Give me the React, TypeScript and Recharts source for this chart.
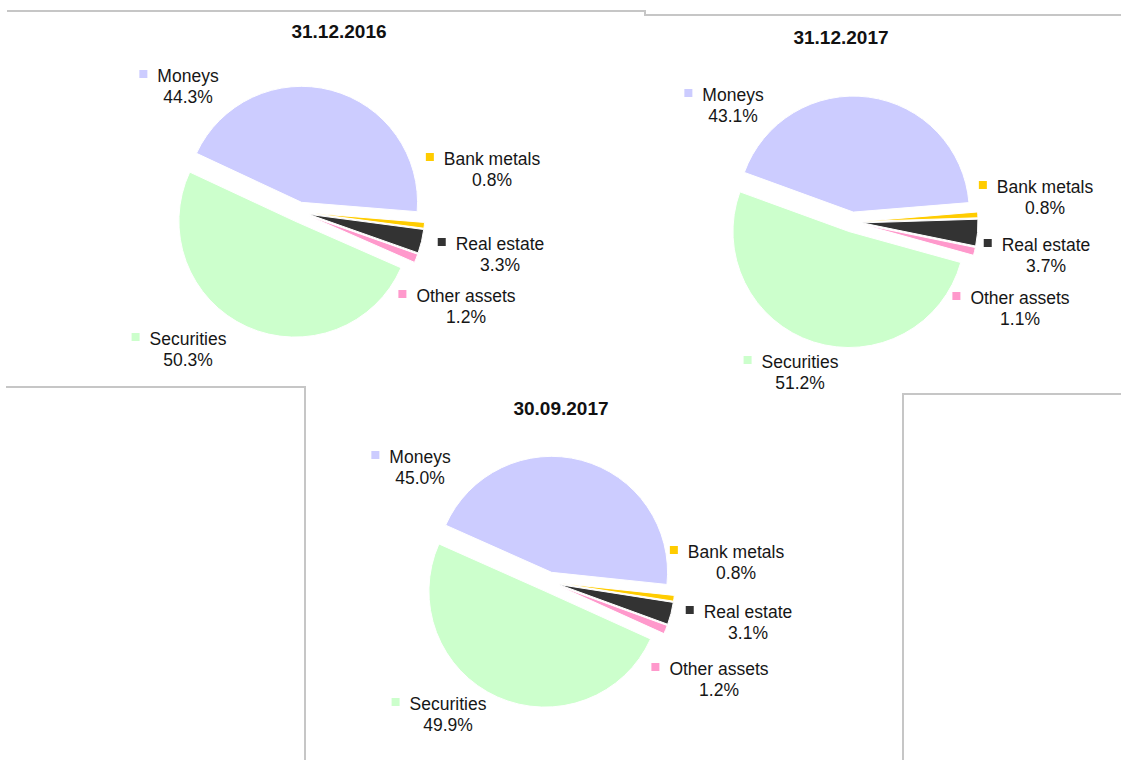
import React from 'react';
import { PieChart, Pie, Cell } from 'recharts';

const categories = ['Moneys', 'Bank metals', 'Real estate', 'Other assets', 'Securities'];
const sliceColors = ['#ccccff', '#ffcc00', '#333333', '#ff99cc', '#ccffcc'];

const titles = ['31.12.2016', '31.12.2017', '30.09.2017'];
const values2016 = [44.3, 0.8, 3.3, 1.2, 50.3];
const valuesDec2017 = [43.1, 0.8, 3.7, 1.1, 51.2];
const valuesSep2017 = [45.0, 0.8, 3.1, 1.2, 49.9];

const W = 1121;
const H = 760;
const RADIUS = 116;
const EXPLODE = 10;
const FONT = '"Liberation Sans", Arial, sans-serif';
const LABEL_SIZE = 17.5;
const BORDER = '#c6c6c6';

// page layout: pie centre, first slice angle, title spot, label anchors (centre of name line)
const charts = [
  {
    title: titles[0], values: values2016, cx: 299, cy: 212, start: 155, titleX: 339, titleY: 31,
    labels: [[188, 76], [492, 159], [500, 244], [466, 296], [188, 339]],
  },
  {
    title: titles[1], values: valuesDec2017, cx: 852, cy: 222, start: 160, titleX: 841, titleY: 37,
    labels: [[733, 95], [1045, 187], [1046, 245], [1020, 298], [800, 362]],
  },
  {
    title: titles[2], values: valuesSep2017, cx: 549, cy: 582, start: 156, titleX: 561, titleY: 408,
    labels: [[420, 457], [736, 552], [748, 612], [719, 669], [448, 704]],
  },
];

let ctx: CanvasRenderingContext2D | null = null;
function textWidth(s: string) {
  if (!ctx) ctx = document.createElement('canvas').getContext('2d');
  if (!ctx) return s.length * 8;
  ctx.font = `${LABEL_SIZE}px ${FONT}`;
  return ctx.measureText(s).width;
}

// bisector of slice k, used to push the slice out of the centre
function sliceMid(values: number[], start: number, k: number) {
  const total = values.reduce((a, b) => a + b, 0);
  const before = values.slice(0, k).reduce((a, b) => a + b, 0);
  return start - ((before + values[k] / 2) / total) * 360;
}

type Chart = (typeof charts)[number];

const makeLabel = (chart: Chart, k: number) => (props: any) => {
  if (props.index !== k) return null;
  const [x, y] = chart.labels[k];
  const name = categories[k];
  const w = textWidth(name);
  return (
    <g>
      <rect x={x - w / 2 - 18} y={y - 6} width={8} height={8} fill={sliceColors[k]} />
      <text x={x} y={y} textAnchor="middle" dominantBaseline="central"
        fontFamily={FONT} fontSize={LABEL_SIZE} fill="#161616">{name}</text>
      <text x={x} y={y + 21} textAnchor="middle" dominantBaseline="central"
        fontFamily={FONT} fontSize={LABEL_SIZE} fill="#161616">{chart.values[k].toFixed(1)}%</text>
    </g>
  );
};

const line = (left: number, top: number, width: number, height: number) => (
  <div style={{ position: 'absolute', left, top, width, height, background: BORDER }} />
);

export default function App() {
  return (
    <div style={{ position: 'absolute', left: 0, top: 0, width: W, height: H, background: '#fff', overflow: 'hidden' }}>
      {/* frame edges of the pasted chart images */}
      {line(7, 10, 638, 2)}
      {line(644, 10, 2, 6)}
      {line(644, 14, 477, 2)}
      {line(6, 386, 300, 2)}
      {line(304, 386, 2, 374)}
      {line(902, 393, 219, 2)}
      {line(902, 393, 2, 367)}

      <div style={{ position: 'absolute', left: 0, top: 0 }}>
        <PieChart width={W} height={H} margin={{ top: 0, right: 0, bottom: 0, left: 0 }}>
          {charts.map((chart, c) => {
            const data = chart.values.map((v, i) => ({ name: categories[i], value: v }));
            return categories.map((_, k) => {
              const mid = (sliceMid(chart.values, chart.start, k) * Math.PI) / 180;
              return (
                <Pie
                  key={`${c}-${k}`}
                  data={data}
                  dataKey="value"
                  nameKey="name"
                  cx={chart.cx + EXPLODE * Math.cos(mid)}
                  cy={chart.cy - EXPLODE * Math.sin(mid)}
                  innerRadius={0}
                  outerRadius={RADIUS}
                  startAngle={chart.start}
                  endAngle={chart.start - 360}
                  isAnimationActive={false}
                  labelLine={false}
                  label={makeLabel(chart, k)}
                  legendType="none"
                >
                  {data.map((d, i) => (
                    <Cell
                      key={d.name}
                      fill={i === k ? sliceColors[i] : 'none'}
                      stroke={i === k ? '#ffffff' : 'none'}
                      strokeWidth={1}
                    />
                  ))}
                </Pie>
              );
            });
          })}
        </PieChart>
      </div>

      {charts.map((chart) => (
        <div
          key={chart.title}
          style={{
            position: 'absolute', left: chart.titleX, top: chart.titleY,
            transform: 'translate(-50%, -50%)', fontFamily: FONT, fontWeight: 'bold',
            fontSize: 19, color: '#111', whiteSpace: 'nowrap', lineHeight: 1,
          }}
        >
          {chart.title}
        </div>
      ))}
    </div>
  );
}
